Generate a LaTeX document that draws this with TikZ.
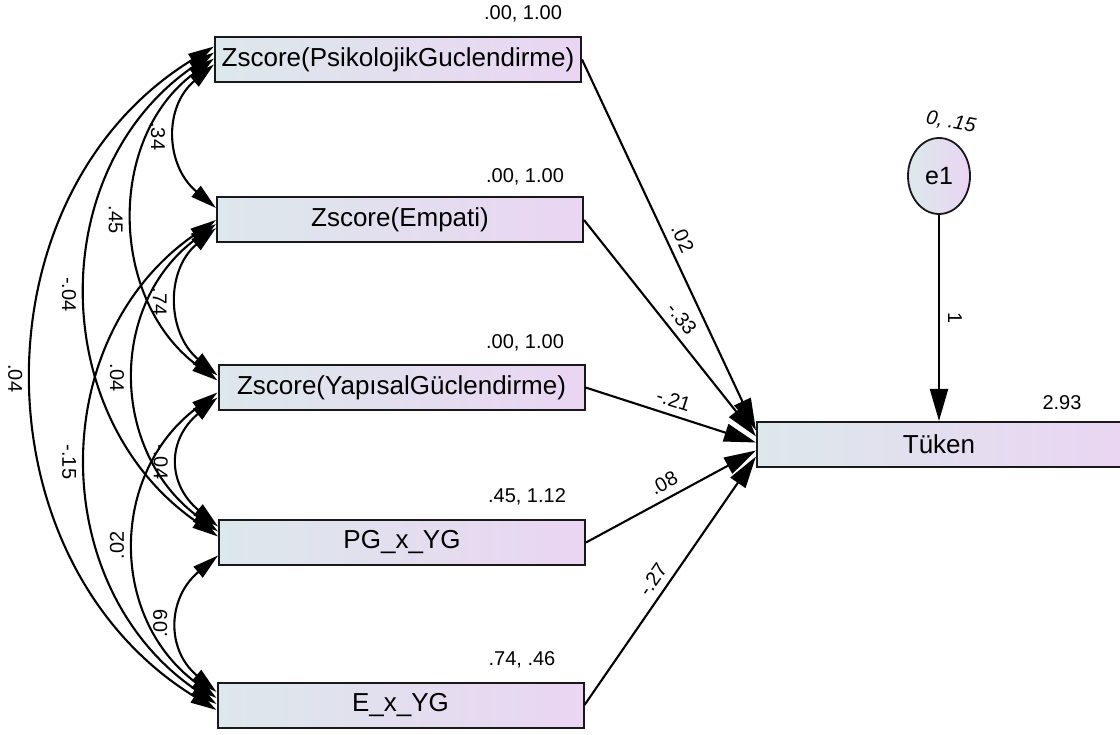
\documentclass[tikz,border=0pt]{standalone}
\usepackage{fontspec}
\setmainfont{Liberation Sans}
\usetikzlibrary{arrows.meta,calc,shapes.geometric}
\definecolor{boxL}{RGB}{220,232,235}
\definecolor{boxR}{RGB}{234,213,243}
\definecolor{edge}{RGB}{25,25,25}
% double-headed covariance arc bulging to the left
\newcommand\covarc[6]{\draw[cov] (#1) .. controls ($(#1)+(-#3,#4)$) and ($(#2)+(-#3,-#4)$) .. (#2) node[#5] {#6};}
\begin{document}
\begin{tikzpicture}[x=1pt,y=-1pt,
  obs/.style={draw=edge, line width=2pt, left color=boxL, right color=boxR,
    minimum width=366pt, minimum height=45pt, inner sep=0pt,
    font=\fontsize{26}{30}\selectfont},
  est/.style={font=\fontsize{20}{24}\selectfont, inner sep=1pt},
  wlbl/.style={font=\fontsize{20}{24}\selectfont, inner sep=0pt},
  cov/.style={line width=2.1pt, draw=black,
    arrows={Triangle[length=26pt,width=14pt]-Triangle[length=26pt,width=14pt]}},
  reg/.style={line width=2.1pt, draw=black, -{Triangle[length=32pt,width=18pt]}},
  lblL/.style={pos=0.5, xshift=-19pt, rotate=-90, wlbl},
  lblR/.style={pos=0.5, xshift=-19pt, rotate=90, wlbl},
  rlbl/.style={sloped, above=7pt, wlbl},
]
\useasboundingbox (0,0) rectangle (1120,735);

% observed variables
\node[obs] (b1) at (398,59.5) {Zscore(PsikolojikGuclendirme)};
\node[obs] (b2) at (400,220) {Zscore(Empati)};
\node[obs] (b3) at (401.5,387.5) {Zscore(YapısalGüclendirme)};
\node[obs] (b4) at (402,542.5) {PG\_x\_YG};
\node[obs] (b5) at (400.5,705) {E\_x\_YG};
\node[obs, minimum width=364pt] (tk) at (939,444.5) {Tüken};

% error term
\node[ellipse, draw=edge, line width=1.8pt, left color=boxL, right color=boxR,
  minimum width=62pt, minimum height=76pt, inner sep=0pt,
  font=\fontsize{25}{29}\selectfont] (e1) at (939,176) {e1};

% means and variances
\node[est] (v1) at (523,14) {.00, 1.00};
\node[est] (v2) at (525,177) {.00, 1.00};
\node[est] (v3) at (525,343) {.00, 1.00};
\node[est] (v4) at (527,497) {.45, 1.12};
\node[est] (v5) at (522,660) {.74, .46};
\node[est] (vt) at (1062,403) {2.93};
\node[est, font=\itshape\fontsize{20}{24}\selectfont, rotate=-10] (ve) at (951,122) {0, .15};

% attachment points of the covariance arcs
\coordinate (c15) at ($(b1.west)+(0,-13)$);
\coordinate (c14) at ($(b1.west)+(0,-7)$);
\coordinate (c13) at ($(b1.west)+(0,-1)$);
\coordinate (c12) at ($(b1.west)+(0,5)$);
\coordinate (c21) at ($(b2.west)+(0,-12)$);
\coordinate (c25) at ($(b2.west)+(0,0)$);
\coordinate (c24) at ($(b2.west)+(0,4)$);
\coordinate (c23) at ($(b2.west)+(0,8)$);
\coordinate (c32) at ($(b3.west)+(0,-12)$);
\coordinate (c31) at ($(b3.west)+(0,-7)$);
\coordinate (c35) at ($(b3.west)+(0,5)$);
\coordinate (c34) at ($(b3.west)+(0,10)$);
\coordinate (c43) at ($(b4.west)+(0,-16)$);
\coordinate (c42) at ($(b4.west)+(0,-11)$);
\coordinate (c41) at ($(b4.west)+(0,-6)$);
\coordinate (c45) at ($(b4.west)+(0,13)$);
\coordinate (c54) at ($(b5.west)+(0,-13)$);
\coordinate (c53) at ($(b5.west)+(0,-7)$);
\coordinate (c52) at ($(b5.west)+(0,-1)$);
\coordinate (c51) at ($(b5.west)+(0,5)$);

% covariances
\covarc{c12}{c21}{50.7}{42.5}{lblL}{.34}
\covarc{c23}{c32}{50.7}{42.5}{lblL}{.74}
\covarc{c34}{c43}{50.7}{42.5}{lblL}{-.04}
\covarc{c45}{c54}{50.7}{42.5}{lblR}{.09}
\covarc{c13}{c31}{108}{80.5}{lblL}{.45}
\covarc{c24}{c42}{108}{80.5}{lblL}{.04}
\covarc{c35}{c53}{108}{80.5}{lblR}{.02}
\covarc{c14}{c41}{170.7}{117.3}{lblL}{-.04}
\covarc{c25}{c52}{170.7}{117.3}{lblL}{-.15}
\covarc{c15}{c51}{241.3}{147.9}{lblL}{.04}

% regression paths into Tüken
\coordinate (t1) at ($(tk.west)+(0,-14)$);
\coordinate (t2) at ($(tk.west)+(0,-8)$);
\coordinate (t3) at ($(tk.west)+(0,-2)$);
\coordinate (t4) at ($(tk.west)+(0,6)$);
\coordinate (t5) at ($(tk.west)+(0,12)$);
\draw[reg] (b1.east) -- (t1) node[pos=0.5, rlbl] {.02};
\draw[reg] (b2.east) -- (t2) node[pos=0.5, rlbl] {-.33};
\draw[reg] (b3.east) -- (t3) node[pos=0.49, rlbl] {-.21};
\draw[reg] (b4.east) -- (t4) node[pos=0.5, rlbl] {.08};
\draw[reg] (b5.east) -- (t5) node[pos=0.47, rlbl] {-.27};

% error path
\draw[reg] (e1.south) -- (e1 |- tk.north)
  node[midway, rotate=-90, anchor=south, wlbl, inner sep=8pt] {1};
\end{tikzpicture}
\end{document}
